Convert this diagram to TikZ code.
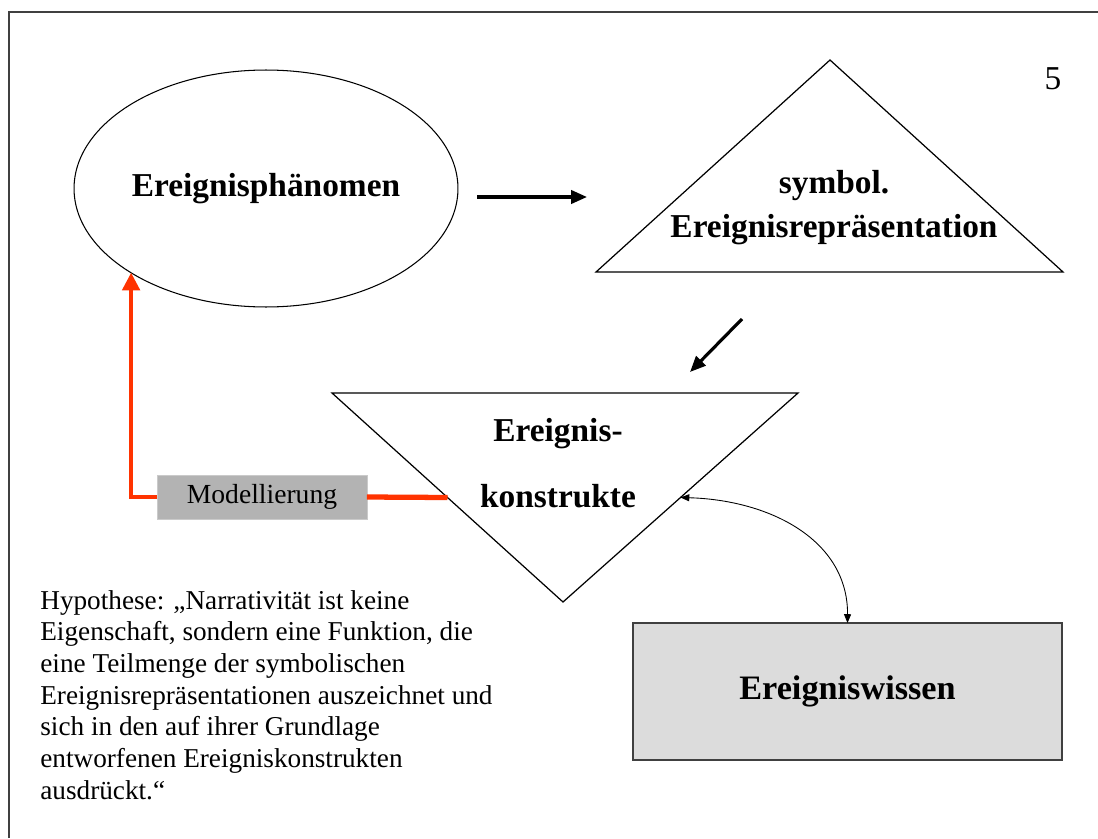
\documentclass[tikz,border=0pt]{standalone}
\usepackage{fontspec}
\setmainfont{Liberation Serif}
\usetikzlibrary{positioning,shapes.geometric,arrows.meta}
\usetikzlibrary{calc}
\definecolor{modred}{HTML}{FF3300}
\definecolor{modgray}{HTML}{B3B3B3}
\definecolor{wissgray}{HTML}{DCDCDC}
\definecolor{framegray}{HTML}{404040}

\begin{document}
\begin{tikzpicture}[x=0.02cm,y=-0.02cm,
		big/.style={font=\bfseries\fontsize{19}{25}\selectfont},
		thickarrow/.style={line width=1.8pt,-{Triangle[length=9pt,width=7.5pt]}}]
		\useasboundingbox (0,0) rectangle (1098,838);
		\draw[framegray,line width=1.1pt] (9,838) -- (9,12) -- (1098,12);

		\node[draw,ellipse,outer sep=0pt,inner sep=0pt,line width=0.6pt,minimum width=7.68cm,minimum height=4.74cm,big] (phaen) at (266,188.5) {Ereignisphänomen};

		\coordinate (stop) at (830,60);
		\coordinate (sleft) at (596,272);
		\coordinate (sright) at (1063,272);
		\draw[line width=0.7pt] (stop) -- (sright) -- (sleft) -- cycle;
		\node[big,align=center,anchor=north,inner sep=0pt] (symtext) at (834,170) {symbol.\\Ereignisrepräsentation};
		\node[font=\fontsize{19}{19}\selectfont,anchor=base,inner sep=0pt] (pagenum) at (1053,90) {5};

		\coordinate (ktl) at (332,393);
		\coordinate (ktr) at (798,393);
		\coordinate (kbot) at (563,602);
		\draw[line width=0.7pt] (ktl) -- (ktr) -- (kbot) -- cycle;
		\node[big,font=\bfseries\fontsize{19}{37.4}\selectfont,align=center,anchor=north,inner sep=0pt] (konstr) at (558,418) {Ereignis-\\konstrukte};
		\coordinate (kleft) at ($(ktl)!0.5!(kbot)$);
		\coordinate (kright) at ($(ktr)!0.5!(kbot)$);

		\coordinate (a1s) at (477,197);
		\coordinate (a1e) at (587,197);
		\draw[thickarrow] (a1s) -- (a1e);
		\coordinate (a2s) at (742,319);
		\coordinate (a2e) at (690,372);
		\draw[thickarrow] (a2s) -- (a2e);

		\node[draw=modgray!70!white,fill=modgray,outer sep=0pt,minimum width=4.2cm,minimum height=0.88cm,font=\fontsize{15.7}{18}\selectfont] (model) at (262,497) {Modellierung};
		\draw[modred,line width=2pt,-{Triangle[length=10pt,width=10pt]}] (model.west) -| (phaen.212);
		\draw[modred,line width=3pt] (model.east) -- (kleft);

		\node[draw=framegray,fill=wissgray,line width=1.1pt,outer sep=0pt,minimum width=8.58cm,minimum height=2.74cm,big,font=\bfseries\fontsize{19.5}{25}\selectfont] (wissen) at (847.5,691.5) {Ereigniswissen};
		\draw[line width=0.5pt,{Triangle[length=5pt,width=4pt]}-{Triangle[length=5pt,width=4pt]}] (kright) .. controls (770,500) and (848,540) .. (wissen.north);

		\node[anchor=north west,inner sep=0pt,align=left,font=\fontsize{15.5}{18}\selectfont] (hypo) at (40,590) {Hypothese: „Narrativität ist keine\\Eigenschaft, sondern eine Funktion, die\\eine Teilmenge der symbolischen\\Ereignisrepräsentationen auszeichnet und\\sich in den auf ihrer Grundlage\\entworfenen Ereigniskonstrukten\\ausdrückt.“};

	\end{tikzpicture}
\end{document}
